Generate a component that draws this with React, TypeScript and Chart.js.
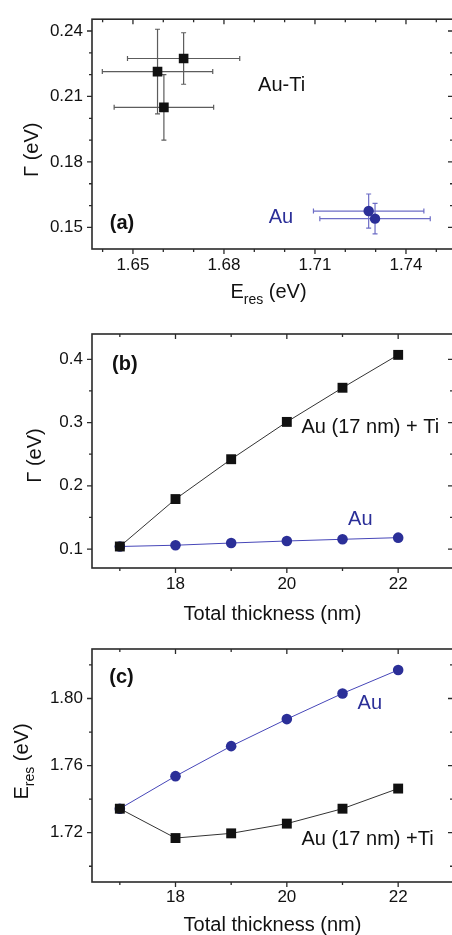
import React, { useEffect, useRef } from 'react';
import { Chart, registerables } from 'chart.js';
Chart.register(...registerables);

// ---------- data: panel (a) ----------
const auTiE = [1.6581, 1.6667, 1.6602];
const auTiG = [0.2214, 0.2274, 0.205];
const auTiEErr = [0.0182, 0.0185, 0.0164];
const auTiGErr = [0.0194, 0.0118, 0.015];
const auE = [1.7277, 1.7298];
const auG = [0.1575, 0.154];
const auEErr = [0.0182, 0.0182];
const auGErr = [0.0078, 0.007];

// ---------- data: panels (b) and (c) ----------
const thickness = [17, 18, 19, 20, 21, 22];
const gammaAuTi = [0.104, 0.179, 0.242, 0.301, 0.355, 0.407];
const gammaAu = [0.104, 0.106, 0.1095, 0.1127, 0.1154, 0.118];
const eresAuTi = [1.7343, 1.7168, 1.7196, 1.7254, 1.7343, 1.7463];
const eresAu = [1.7343, 1.7537, 1.7716, 1.7877, 1.803, 1.817];

// ---------- ticks ----------
const ticksAX = [1.65, 1.68, 1.71, 1.74];
const minorAX = [1.64, 1.66, 1.67, 1.69, 1.7, 1.72, 1.73, 1.75];
const ticksAY = [0.15, 0.18, 0.21, 0.24];
const minorAY = [0.16, 0.17, 0.19, 0.2, 0.22, 0.23];
const ticksThick = [18, 20, 22];
const minorThick = [17, 19, 21];
const ticksBY = [0.1, 0.2, 0.3, 0.4];
const minorBY = [0.15, 0.25, 0.35];
const ticksCY = [1.72, 1.76, 1.8];
const minorCY = [1.7, 1.74, 1.78, 1.82];

const FONT = '"Liberation Sans", Arial, Helvetica, sans-serif';
const BLACK = '#111111';
const BLUE = '#2b2f98';
const BLUE_LINE = '#4646b8';
const AXIS = '#2a2a2a';

type Part = { t: string; sub?: boolean };
type Ann = { text: string; x: number; y: number; color: string; bold?: boolean; align?: CanvasTextAlign };

function drawParts(ctx: CanvasRenderingContext2D, parts: Part[], cx: number, cy: number, rotate: boolean) {
  const font = `20px ${FONT}`;
  const subFont = `14px ${FONT}`;
  ctx.save();
  ctx.translate(cx, cy);
  if (rotate) ctx.rotate(-Math.PI / 2);
  let total = 0;
  const widths = parts.map((p) => {
    ctx.font = p.sub ? subFont : font;
    const w = ctx.measureText(p.t).width;
    total += w;
    return w;
  });
  let x = -total / 2;
  ctx.textAlign = 'left';
  ctx.textBaseline = 'alphabetic';
  ctx.fillStyle = BLACK;
  parts.forEach((p, i) => {
    ctx.font = p.sub ? subFont : font;
    ctx.fillText(p.t, x, p.sub ? 6 : 0);
    x += widths[i];
  });
  ctx.restore();
}

interface PanelCfg {
  top: number;
  height: number;
  padTop: number;
  areaH: number;
  xMin: number; xMax: number; yMin: number; yMax: number;
  xTicks: number[]; xMinor: number[]; yTicks: number[]; yMinor: number[];
  xFmt: (v: number) => string; yFmt: (v: number) => string;
  xLabelPad: number;
  datasets: any[];
  annotations: Ann[];
  xTitle: Part[]; xTitleDx: number; xTitleDy: number;
  yTitle: Part[]; yTitleX: number; yTitleDy: number;
}

const pts = (xs: number[], ys: number[]) => xs.map((x, i) => ({ x, y: ys[i] }));

const panels: PanelCfg[] = [
  {
    top: 0, height: 312, padTop: 15, areaH: 234,
    xMin: 1.6365, xMax: 1.7555, yMin: 0.1401, yMax: 0.2454,
    xTicks: ticksAX, xMinor: minorAX, yTicks: ticksAY, yMinor: minorAY,
    xFmt: (v) => v.toFixed(2), yFmt: (v) => v.toFixed(2),
    xLabelPad: 6,
    datasets: [
      {
        label: 'Au-Ti', data: pts(auTiE, auTiG), pointStyle: 'rect', pointRadius: 6.8,
        backgroundColor: BLACK, borderColor: BLACK, pointBorderWidth: 0, showLine: false,
        errX: auTiEErr, errY: auTiGErr, errColor: '#5c5c5c',
      },
      {
        label: 'Au', data: pts(auE, auG), pointStyle: 'circle', pointRadius: 5.2,
        backgroundColor: BLUE, borderColor: BLUE, pointBorderWidth: 0, showLine: false,
        errX: auEErr, errY: auGErr, errColor: '#6d6dc6',
      },
    ],
    annotations: [
      { text: 'Au-Ti', x: 1.699, y: 0.2148, color: BLACK },
      { text: 'Au', x: 1.6988, y: 0.1545, color: BLUE },
      { text: '(a)', x: 1.6464, y: 0.1518, color: BLACK, bold: true },
    ],
    xTitle: [{ t: 'E' }, { t: 'res', sub: true }, { t: ' (eV)' }], xTitleDx: -4, xTitleDy: 49,
    yTitle: [{ t: 'Γ (eV)' }], yTitleX: 38, yTitleDy: 130.5,
  },
  {
    top: 310, height: 320, padTop: 24, areaH: 234,
    xMin: 16.5, xMax: 22.985, yMin: 0.07, yMax: 0.44,
    xTicks: ticksThick, xMinor: minorThick, yTicks: ticksBY, yMinor: minorBY,
    xFmt: (v) => String(v), yFmt: (v) => v.toFixed(1),
    xLabelPad: 6,
    datasets: [
      {
        label: 'Au (17 nm) + Ti', data: pts(thickness, gammaAuTi), pointStyle: 'rect', pointRadius: 7,
        backgroundColor: BLACK, borderColor: '#333333', borderWidth: 1,
        pointBackgroundColor: BLACK, pointBorderColor: BLACK, pointBorderWidth: 0, showLine: true,
      },
      {
        label: 'Au', data: pts(thickness, gammaAu), pointStyle: 'circle', pointRadius: 5.3,
        backgroundColor: BLUE, borderColor: BLUE_LINE, borderWidth: 1,
        pointBackgroundColor: BLUE, pointBorderColor: BLUE, pointBorderWidth: 0, showLine: true,
      },
    ],
    annotations: [
      { text: 'Au (17 nm) + Ti', x: 20.264, y: 0.2927, color: BLACK, align: 'left' },
      { text: 'Au', x: 21.32, y: 0.147, color: BLUE },
      { text: '(b)', x: 17.09, y: 0.392, color: BLACK, bold: true },
    ],
    xTitle: [{ t: 'Total thickness (nm)' }], xTitleDx: 0, xTitleDy: 52,
    yTitle: [{ t: 'Γ (eV)' }], yTitleX: 41, yTitleDy: 121.5,
  },
  {
    top: 620, height: 315, padTop: 29, areaH: 233,
    xMin: 16.5, xMax: 22.985, yMin: 1.6906, yMax: 1.8295,
    xTicks: ticksThick, xMinor: minorThick, yTicks: ticksCY, yMinor: minorCY,
    xFmt: (v) => String(v), yFmt: (v) => v.toFixed(2),
    xLabelPad: 5,
    datasets: [
      {
        label: 'Au (17 nm) +Ti', data: pts(thickness, eresAuTi), pointStyle: 'rect', pointRadius: 7,
        backgroundColor: BLACK, borderColor: '#333333', borderWidth: 1,
        pointBackgroundColor: BLACK, pointBorderColor: BLACK, pointBorderWidth: 0, showLine: true,
      },
      {
        label: 'Au', data: pts(thickness, eresAu), pointStyle: 'circle', pointRadius: 5.3,
        backgroundColor: BLUE, borderColor: BLUE_LINE, borderWidth: 1,
        pointBackgroundColor: BLUE, pointBorderColor: BLUE, pointBorderWidth: 0, showLine: true,
      },
    ],
    annotations: [
      { text: 'Au', x: 21.49, y: 1.7968, color: BLUE },
      { text: 'Au (17 nm) +Ti', x: 20.264, y: 1.7162, color: BLACK, align: 'left' },
      { text: '(c)', x: 17.03, y: 1.8125, color: BLACK, bold: true },
    ],
    xTitle: [{ t: 'Total thickness (nm)' }], xTitleDx: 0, xTitleDy: 49,
    yTitle: [{ t: 'E' }, { t: 'res', sub: true }, { t: ' (eV)' }], yTitleX: 28, yTitleDy: 112.5,
  },
];

function makePlugins(cfg: PanelCfg) {
  const frame = {
    id: 'frame',
    beforeDatasetsDraw(chart: any) {
      const { ctx, chartArea } = chart;
      const { left, right, top, bottom } = chartArea;
      const xs = chart.scales.x;
      const ys = chart.scales.y;
      ctx.save();
      ctx.strokeStyle = AXIS;
      ctx.lineWidth = 1.6;
      ctx.strokeRect(left, top, right - left, bottom - top);
      ctx.lineWidth = 1.3;
      const drawX = (vals: number[], len: number) => {
        vals.forEach((v) => {
          const px = xs.getPixelForValue(v);
          ctx.beginPath();
          ctx.moveTo(px, bottom); ctx.lineTo(px, bottom + len);
          ctx.moveTo(px, top); ctx.lineTo(px, top + len);
          ctx.stroke();
        });
      };
      const drawY = (vals: number[], len: number) => {
        vals.forEach((v) => {
          const py = ys.getPixelForValue(v);
          ctx.beginPath();
          ctx.moveTo(left, py); ctx.lineTo(left - len, py);
          ctx.moveTo(right, py); ctx.lineTo(right - len, py);
          ctx.stroke();
        });
      };
      drawX(cfg.xTicks, 5);
      drawX(cfg.xMinor, 3);
      drawY(cfg.yTicks, 5);
      drawY(cfg.yMinor, 3);

      // error bars
      chart.data.datasets.forEach((ds: any) => {
        if (!ds.errX) return;
        ctx.strokeStyle = ds.errColor;
        ctx.lineWidth = 1.2;
        ds.data.forEach((p: any, i: number) => {
          const cx = xs.getPixelForValue(p.x);
          const cy = ys.getPixelForValue(p.y);
          const x0 = xs.getPixelForValue(p.x - ds.errX[i]);
          const x1 = xs.getPixelForValue(p.x + ds.errX[i]);
          const y0 = ys.getPixelForValue(p.y - ds.errY[i]);
          const y1 = ys.getPixelForValue(p.y + ds.errY[i]);
          const c = 2.5;
          ctx.beginPath();
          ctx.moveTo(x0, cy); ctx.lineTo(x1, cy);
          ctx.moveTo(x0, cy - c); ctx.lineTo(x0, cy + c);
          ctx.moveTo(x1, cy - c); ctx.lineTo(x1, cy + c);
          ctx.moveTo(cx, y0); ctx.lineTo(cx, y1);
          ctx.moveTo(cx - c, y0); ctx.lineTo(cx + c, y0);
          ctx.moveTo(cx - c, y1); ctx.lineTo(cx + c, y1);
          ctx.stroke();
        });
      });
      ctx.restore();
    },
    afterDatasetsDraw(chart: any) {
      const { ctx, chartArea } = chart;
      const xs = chart.scales.x;
      const ys = chart.scales.y;
      ctx.save();
      cfg.annotations.forEach((a) => {
        ctx.font = `${a.bold ? 'bold ' : ''}20px ${FONT}`;
        ctx.fillStyle = a.color;
        ctx.textAlign = a.align || 'center';
        ctx.textBaseline = 'middle';
        ctx.fillText(a.text, xs.getPixelForValue(a.x), ys.getPixelForValue(a.y));
      });
      ctx.restore();
      drawParts(ctx, cfg.xTitle, (chartArea.left + chartArea.right) / 2 + cfg.xTitleDx, chartArea.bottom + cfg.xTitleDy, false);
      drawParts(ctx, cfg.yTitle, cfg.yTitleX, chartArea.top + cfg.yTitleDy, true);
    },
  };
  return [frame];
}

function Panel({ cfg }: { cfg: PanelCfg }) {
  const ref = useRef<HTMLCanvasElement>(null);
  useEffect(() => {
    if (!ref.current) return;
    const tickFont = { family: FONT, size: 17 };
    const xAxisH = cfg.height - cfg.padTop - cfg.areaH;
    const chart = new Chart(ref.current, {
      type: 'scatter',
      data: { datasets: cfg.datasets },
      options: {
        animation: false,
        responsive: false,
        maintainAspectRatio: false,
        devicePixelRatio: 1,
        layout: { padding: { top: cfg.padTop, right: 7, left: 0, bottom: 0 } },
        plugins: { legend: { display: false }, tooltip: { enabled: false } },
        scales: {
          x: {
            type: 'linear', min: cfg.xMin, max: cfg.xMax,
            grid: { display: false, drawTicks: false },
            border: { display: false },
            ticks: { font: tickFont, color: BLACK, padding: cfg.xLabelPad, maxRotation: 0, callback: (v: any) => cfg.xFmt(Number(v)) },
            afterBuildTicks: (s: any) => { s.ticks = cfg.xTicks.map((value) => ({ value })); },
            afterFit: (s: any) => { s.height = xAxisH; },
          },
          y: {
            type: 'linear', min: cfg.yMin, max: cfg.yMax,
            grid: { display: false, drawTicks: false },
            border: { display: false },
            ticks: { font: tickFont, color: BLACK, padding: 9, callback: (v: any) => cfg.yFmt(Number(v)) },
            afterBuildTicks: (s: any) => { s.ticks = cfg.yTicks.map((value) => ({ value })); },
            afterFit: (s: any) => { s.width = 92; },
          },
        },
      } as any,
      plugins: makePlugins(cfg) as any,
    });
    return () => chart.destroy();
  }, [cfg]);
  return (
    <canvas
      ref={ref}
      width={460}
      height={cfg.height}
      style={{ position: 'absolute', left: 0, top: cfg.top, width: 460, height: cfg.height }}
    />
  );
}

export default function App() {
  return (
    <div style={{ position: 'absolute', left: 0, top: 0, width: 452, height: 935, overflow: 'hidden', background: '#ffffff' }}>
      {panels.map((p, i) => (
        <Panel key={i} cfg={p} />
      ))}
    </div>
  );
}
